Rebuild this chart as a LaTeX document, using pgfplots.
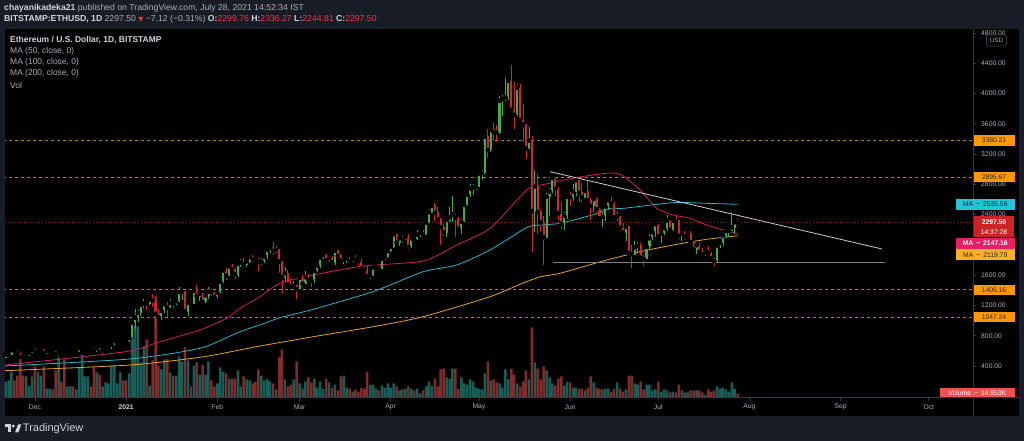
\documentclass[border=0pt]{standalone}
\usepackage{pgfplots}
\pgfplotsset{compat=1.18}
\usepackage{pgfplotstable}
\usepackage{fontspec}
\setmainfont{Liberation Sans}
\newfontfamily\dejavu{DejaVu Sans}
\definecolor{bgnavy}{RGB}{24,28,39}
\definecolor{txtw}{RGB}{209,212,220}
\definecolor{txtg}{RGB}{170,174,184}
\definecolor{hdrred}{RGB}{242,54,69}
\definecolor{cup}{RGB}{72,168,78}
\definecolor{cdn}{RGB}{204,40,46}
\definecolor{vup}{RGB}{24,94,86}
\definecolor{vdn}{RGB}{126,44,44}
\definecolor{ma50}{RGB}{206,32,94}
\definecolor{ma100}{RGB}{38,182,204}
\definecolor{ma200}{RGB}{232,162,32}
\definecolor{lvl}{RGB}{205,122,0}
\definecolor{lvlbox}{RGB}{255,152,0}
\definecolor{curline}{RGB}{150,32,32}
\definecolor{curbox}{RGB}{204,36,36}
\definecolor{tealbox}{RGB}{34,196,214}
\definecolor{pinkbox}{RGB}{233,30,99}
\definecolor{yelbox}{RGB}{249,176,36}
\definecolor{volbox}{RGB}{239,83,80}
\definecolor{sep}{RGB}{54,58,69}
\definecolor{trend}{RGB}{205,205,210}
\definecolor{hline}{RGB}{128,128,132}
\definecolor{boxtxt}{RGB}{40,36,30}
\newcommand\fhdr{\fontsize{8.7}{9.5}\selectfont}
\newcommand\flgd{\fontsize{8.5}{9.5}\selectfont}
\newcommand\ftick{\fontsize{6.8}{8}\selectfont}
\newcommand\flab{\fontsize{6.8}{8}\selectfont}
\newcommand\flogo{\fontsize{11}{12}\selectfont}

\pgfplotstableread{
d o h l c v
-10 510 560 505 550 59
-9 550 562 525 557 63
-8 557 615 550 608 96
-7 608 620 580 604 63
-6 604 616 565 568 81
-5 568 578 480 518 167
-4 518 530 495 517 81
-3 517 545 505 539 78
-2 539 580 530 575 44
-1 575 620 570 614 78
0 614 636 560 587 115
1 587 600 570 598 96
2 598 622 588 616 81
3 616 622 560 570 115
4 570 598 563 596 33
5 596 605 585 601 33
6 601 606 582 592 30
7 592 595 553 555 100
8 555 578 530 573 148
9 573 575 555 560 59
10 560 562 535 545 141
11 545 572 542 568 41
12 568 595 565 590 41
13 590 593 578 586 41
14 586 597 580 589 30
15 589 640 584 636 111
16 636 676 626 643 159
17 643 660 630 654 78
18 654 668 646 658 78
19 658 666 630 638 41
20 638 650 600 609 111
21 609 640 588 634 93
22 634 637 570 585 85
23 585 614 575 612 41
24 612 632 604 626 56
25 626 645 620 636 52
26 636 705 627 683 118
27 683 745 680 731 122
28 731 738 700 732 52
29 732 754 720 751 93
30 751 754 714 737 63
31 737 748 715 730 63
32 730 786 715 774 89
33 774 1010 768 975 218
34 975 1155 895 1040 266
35 1040 1135 985 1100 263
36 1100 1210 1065 1207 130
37 1207 1280 1170 1225 189
38 1225 1265 1140 1224 215
39 1224 1305 1205 1281 44
40 1281 1350 1175 1262 137
41 1262 1265 920 1090 377
42 1090 1150 1040 1043 118
43 1043 1138 1010 1130 104
44 1130 1245 1100 1218 141
45 1218 1250 1050 1171 141
46 1171 1290 1160 1233 93
47 1233 1260 1170 1230 81
48 1230 1260 1200 1257 81
49 1257 1440 1240 1377 152
50 1377 1390 1270 1383 133
51 1383 1385 1090 1120 185
52 1120 1250 1060 1236 137
53 1236 1270 1200 1231 41
54 1231 1410 1225 1391 118
55 1391 1470 1305 1324 130
56 1324 1370 1255 1357 85
57 1357 1360 1220 1248 122
58 1248 1345 1235 1332 85
59 1332 1445 1290 1382 133
60 1382 1390 1320 1377 63
61 1377 1380 1290 1314 41
62 1314 1375 1300 1370 52
63 1370 1540 1365 1512 111
64 1512 1665 1500 1660 96
65 1660 1690 1530 1593 89
66 1593 1735 1590 1719 70
67 1719 1745 1650 1677 70
68 1677 1690 1555 1614 70
69 1614 1765 1575 1750 100
70 1750 1820 1710 1769 41
71 1769 1830 1700 1744 78
72 1744 1795 1710 1783 67
73 1783 1870 1760 1843 63
74 1843 1870 1780 1814 52
75 1814 1830 1770 1800 59
76 1800 1830 1660 1780 104
77 1780 1825 1735 1781 81
78 1781 1855 1755 1848 63
79 1848 1950 1820 1938 67
80 1938 1970 1890 1960 59
81 1960 2040 1870 1919 52
82 1919 1985 1890 1935 30
83 1935 1945 1630 1781 148
84 1781 1785 1370 1570 178
85 1570 1710 1510 1626 67
86 1626 1670 1465 1475 41
87 1475 1560 1400 1446 48
88 1446 1525 1430 1459 67
89 1459 1470 1290 1417 133
90 1417 1570 1410 1567 52
91 1567 1600 1465 1488 33
92 1488 1650 1480 1574 59
93 1574 1620 1510 1537 74
94 1537 1548 1440 1530 56
95 1530 1665 1500 1655 70
96 1655 1735 1640 1724 37
97 1724 1840 1700 1835 59
98 1835 1875 1815 1869 33
99 1869 1880 1780 1795 70
100 1795 1840 1770 1825 56
101 1825 1850 1730 1772 37
102 1772 1945 1740 1925 48
103 1925 1932 1840 1855 26
104 1855 1880 1760 1793 78
105 1793 1820 1745 1806 81
106 1806 1835 1760 1823 37
107 1823 1845 1770 1781 33
108 1781 1830 1770 1811 22
109 1811 1862 1800 1808 30
110 1808 1815 1740 1786 22
111 1786 1810 1670 1687 37
112 1687 1725 1660 1677 33
113 1677 1740 1580 1588 96
114 1588 1630 1550 1594 48
115 1594 1710 1590 1704 48
116 1704 1725 1680 1714 33
117 1714 1720 1665 1682 26
118 1682 1830 1675 1817 44
119 1817 1860 1800 1846 37
120 1846 1945 1830 1919 52
121 1919 1990 1900 1977 37
122 1977 2150 1960 2142 52
123 2142 2145 2020 2028 41
124 2028 2100 1990 2089 26
125 2089 2120 2030 2075 30
126 2075 2150 2070 2111 33
127 2111 2140 1935 1972 41
128 1972 2100 1960 2087 33
129 2087 2100 2055 2071 26
130 2071 2195 2060 2135 33
131 2135 2165 2110 2158 15
132 2158 2200 2120 2140 26
133 2140 2315 2130 2297 41
134 2297 2470 2290 2432 59
135 2432 2545 2415 2515 44
136 2515 2550 2320 2423 70
137 2423 2495 2310 2337 41
138 2337 2355 2000 2236 104
139 2236 2280 2120 2166 107
140 2166 2340 2110 2327 74
141 2327 2500 2300 2364 70
142 2364 2640 2300 2402 107
143 2402 2410 2110 2363 107
144 2363 2370 2185 2213 33
145 2213 2340 2150 2303 74
146 2303 2550 2300 2530 52
147 2530 2680 2515 2663 48
148 2663 2800 2630 2748 67
149 2748 2800 2660 2757 59
150 2757 2800 2720 2772 37
151 2772 2970 2765 2945 33
152 2945 2985 2860 2950 30
153 2950 3460 2940 3430 89
154 3430 3530 3150 3253 133
155 3253 3540 3225 3521 63
156 3521 3610 3370 3489 67
157 3489 3590 3360 3480 56
158 3480 3970 3460 3903 52
159 3903 3980 3700 3928 37
160 3928 4200 3900 3950 104
161 3950 4200 3920 4170 67
162 4170 4380 3780 3785 107
163 3785 4150 3530 3718 85
164 3718 4130 3700 4080 52
165 4080 4120 3630 3646 41
166 3646 3860 3360 3589 59
167 3589 3600 3140 3274 100
168 3274 3560 3270 3380 67
169 3380 3440 1900 2447 259
170 2447 2990 2170 2774 130
171 2774 2940 2150 2434 107
172 2434 2480 2170 2298 67
173 2298 2380 1730 2101 115
174 2101 2680 2090 2640 100
175 2640 2750 2385 2705 74
176 2705 2910 2690 2888 52
177 2888 2895 2650 2742 44
178 2742 2765 2330 2420 70
179 2420 2565 2210 2280 78
180 2280 2440 2200 2388 44
181 2388 2650 2340 2633 59
182 2633 2700 2520 2632 56
183 2632 2800 2580 2707 37
184 2707 2890 2650 2855 37
185 2855 2860 2570 2688 33
186 2688 2815 2560 2630 33
187 2630 2740 2615 2712 26
188 2712 2840 2575 2590 37
189 2590 2620 2330 2516 78
190 2516 2630 2440 2608 56
191 2608 2620 2440 2472 37
192 2472 2490 2330 2352 33
193 2352 2440 2240 2372 30
194 2372 2525 2310 2508 33
195 2508 2610 2460 2589 33
196 2589 2630 2520 2548 22
197 2548 2560 2350 2366 33
198 2366 2430 2310 2373 56
199 2373 2380 2190 2226 33
200 2226 2290 2150 2163 22
201 2163 2270 2050 2240 30
202 2240 2250 1880 1891 81
203 1891 2000 1700 1878 81
204 1878 2050 1860 1968 52
205 1968 2040 1900 1989 48
206 1989 2020 1810 1830 59
207 1830 1860 1720 1817 30
208 1817 1990 1810 1975 48
209 1975 2140 1950 2087 48
210 2087 2200 2070 2168 26
211 2168 2280 2100 2273 30
212 2273 2280 2090 2110 59
213 2110 2160 2020 2150 22
214 2150 2240 2130 2221 30
215 2221 2390 2190 2322 26
216 2322 2330 2170 2198 19
217 2198 2350 2190 2322 22
218 2322 2400 2300 2317 19
219 2317 2320 2080 2117 48
220 2117 2190 2050 2147 26
221 2147 2180 2060 2112 19
222 2112 2160 2100 2139 19
223 2139 2180 2010 2037 26
224 2037 2050 1920 1940 26
225 1940 2010 1880 1995 26
226 1995 2030 1900 1912 26
227 1912 1960 1850 1874 19
228 1874 1920 1855 1897 11
229 1897 1990 1880 1895 30
230 1895 1900 1790 1818 22
231 1818 1830 1720 1787 26
232 1787 2020 1770 1994 41
233 1994 2050 1960 2027 33
234 2027 2130 1990 2123 37
235 2123 2200 2090 2187 30
236 2187 2190 2110 2189 22
237 2189 2430 2180 2230 56
238 2230 2315 2150 2300 33
239 2299.76 2336.27 2244.81 2297.50 15
}\eth

\pgfplotstableread{
d m
-10.4 412
10.8 500
32.3 598
42.5 721
56.1 876
65.2 1030
69.7 1162
76.5 1316
83.3 1493
94.6 1602
111.6 1721
132.1 1787
143.4 1998
154.8 2220
167.2 2725
172.0 2791
175.2 2814
183.4 2885
195.6 2950
200.1 2910
205.8 2725
211.5 2483
217.1 2395
222.8 2351
228.5 2263
234.1 2197
239.0 2147
}\maA

\pgfplotstableread{
d m
-10.4 400
32.3 493
56.1 634
69.7 853
76.5 942
83.3 1038
94.6 1149
114.9 1382
132.1 1646
143.4 1734
154.8 1933
167.2 2228
172.0 2263
178.6 2285
189.5 2395
195.6 2483
200.1 2483
217.1 2558
228.5 2549
239.0 2536
}\maB

\pgfplotstableread{
d m
-10.4 338
32.3 413
56.1 515
69.7 612
76.5 664
94.6 787
115.0 919
132.1 1052
154.8 1316
164.9 1479
172.0 1580
178.6 1625
193.5 1790
205.8 1910
217.1 1999
228.5 2074
239.0 2120
}\maC

\begin{document}
\begin{tikzpicture}
\begin{scope}[x=1bp,y=-1bp]
\path[use as bounding box] (0,0) rectangle (1024,441);
\fill[bgnavy] (0,0) rectangle (1024,441);
\fill[black] (4.5,29.3) rectangle (1019.3,416);
\end{scope}

% volume
\begin{axis}[at={(4.5bp,-397.5bp)}, anchor=south west, scale only axis,
  width=968.5bp, height=368.2bp,
  xmin=-10.37, xmax=319.05, ymin=0, ymax=1362, hide axis, clip=true]
\addplot[ybar, bar width=2.5bp, bar shift=0pt, fill=vup, draw=none,
  restrict expr to domain={\thisrow{c}-\thisrow{o}}{0:100000}]
  table[x=d, y=v]{\eth};
\addplot[ybar, bar width=2.5bp, bar shift=0pt, fill=vdn, draw=none,
  restrict expr to domain={\thisrow{o}-\thisrow{c}}{0.0001:100000}]
  table[x=d, y=v]{\eth};
\end{axis}

% price
\begin{axis}[at={(4.5bp,-397.5bp)}, anchor=south west, scale only axis,
  width=968.5bp, height=368.2bp,
  xmin=-10.37, xmax=319.05, ymin=-16, ymax=4848,
  axis line style={draw=none},
  tick align=outside, major tick length=3bp,
  tick style={draw=sep, line width=0.6bp},
  ytick pos=right, yticklabel pos=right, xtick pos=bottom,
  ytick={400,800,1200,1600,2400,2800,3200,3600,4000,4400,4800},
  yticklabels={400.00,800.00,1200.00,1600.00,2400.00,2800.00,3200.00,3600.00,4000.00,4400.00,4800.00},
  xtick={0,31,62,90,121,151,182,212,243,274,304},
  xticklabels={Dec,{\textcolor{txtw}{\bfseries 2021}},Feb,Mar,Apr,May,Jun,Jul,Aug,Sep,Oct},
  tick label style={font=\ftick, text=txtg},
  yticklabel style={anchor=west, inner sep=0pt, xshift=5bp},
  xticklabel style={anchor=center, inner sep=0pt, yshift=-6.5bp},
  /pgf/number format/assume math mode=true,
  clip=true]
% levels
\addplot[lvl, line width=0.8bp, dash pattern=on 3bp off 3bp] coordinates {(-11,3380.21) (320,3380.21)};
\addplot[lvl, line width=0.8bp, dash pattern=on 3bp off 3bp] coordinates {(-11,2895.67) (320,2895.67)};
\addplot[lvl, line width=0.8bp, dash pattern=on 3bp off 3bp] coordinates {(-11,1406.16) (320,1406.16)};
\addplot[lvl, line width=0.8bp, dash pattern=on 3bp off 3bp] coordinates {(-11,1047.24) (320,1047.24)};
\addplot[curline, line width=0.7bp, dash pattern=on 1bp off 2bp] coordinates {(-11,2297.5) (320,2297.5)};
% moving averages
\addplot[ma200, line width=0.8bp, smooth, tension=0.4] table[x=d, y=m]{\maC};
\addplot[ma100, line width=0.8bp, smooth, tension=0.4] table[x=d, y=m]{\maB};
\addplot[ma50, line width=0.8bp, smooth, tension=0.4] table[x=d, y=m]{\maA};
% drawings
\addplot[hline, line width=1.6bp] coordinates {(176.3,1765) (289,1765)};
\addplot[trend, line width=0.8bp] coordinates {(175.2,2967) (288.1,1946)};
% wicks
\addplot[only marks, mark=none,
  restrict expr to domain={\thisrow{c}-\thisrow{o}}{0:100000},
  error bars/.cd, y dir=both, y explicit, error mark=none,
  error bar style={line width=0.7bp, draw=cup}]
  table[x=d, y=c, y error plus expr=\thisrow{h}-\thisrow{c}, y error minus expr=\thisrow{c}-\thisrow{l}]{\eth};
\addplot[only marks, mark=none,
  restrict expr to domain={\thisrow{o}-\thisrow{c}}{0.0001:100000},
  error bars/.cd, y dir=both, y explicit, error mark=none,
  error bar style={line width=0.7bp, draw=cdn}]
  table[x=d, y=c, y error plus expr=\thisrow{h}-\thisrow{c}, y error minus expr=\thisrow{c}-\thisrow{l}]{\eth};
% bodies
\addplot[only marks, mark=none,
  restrict expr to domain={\thisrow{c}-\thisrow{o}}{0:100000},
  error bars/.cd, y dir=minus, y explicit, error mark=none,
  error bar style={line width=2.1bp, draw=cup}]
  table[x=d, y=c, y error minus expr=\thisrow{c}-\thisrow{o}+6]{\eth};
\addplot[only marks, mark=none,
  restrict expr to domain={\thisrow{o}-\thisrow{c}}{0.0001:100000},
  error bars/.cd, y dir=plus, y explicit, error mark=none,
  error bar style={line width=2.1bp, draw=cdn}]
  table[x=d, y=c, y error plus expr=\thisrow{o}-\thisrow{c}+6]{\eth};
\end{axis}

\begin{scope}[x=1bp,y=-1bp]
% separators
\draw[sep, line width=0.6bp] (973,29.3) -- (973,416);
\draw[sep, line width=0.6bp] (4.5,397.5) -- (1019.3,397.5);
% USD
\draw[rounded corners=1.5bp, draw=sep, fill=black, line width=0.6bp] (986.5,35) rectangle (1006.5,46);
\node[font=\fontsize{6.3}{7}\selectfont, text=txtg, inner sep=0pt] at (996.5,40.5) {USD};
% price boxes
\tikzset{pbox/.style={anchor=west, inner sep=0pt, font=\flab, minimum height=10.8bp}}
\node[pbox, fill=lvlbox, text=boxtxt, minimum width=41bp] at (973.3,140.4) {3380.21};
\node[pbox, fill=lvlbox, text=boxtxt, minimum width=41bp] at (973.3,177.1) {2895.67};
\node[pbox, fill=tealbox, text=boxtxt, minimum width=58.6bp] at (955.7,204.5) {MA\, −\, 2535.56};
\fill[curbox] (973.7,216.2) rectangle (1014.3,237.3);
\node[font=\flab, text=white, inner sep=0pt] at (994,222) {\bfseries 2297.50};
\node[font=\flab, text=white, inner sep=0pt] at (994,232) {14:37:28};
\node[pbox, fill=pinkbox, text=white, minimum width=58.6bp] at (955.7,243.5) {\bfseries MA\, −\, 2147.16};
\node[pbox, fill=yelbox, text=boxtxt, minimum width=58.6bp] at (955.7,254.8) {MA\, −\, 2119.79};
\node[pbox, fill=lvlbox, text=boxtxt, minimum width=41bp] at (973.3,290.0) {1406.16};
\node[pbox, fill=lvlbox, text=boxtxt, minimum width=41bp] at (973.3,317.0) {1047.24};
\node[pbox, fill=volbox, text=white, minimum width=74.3bp, minimum height=9bp] at (940,392.8) {Volume\, −\, 14.953K};
% header
\node[anchor=west, inner sep=0pt, font=\fhdr] at (4,8) {\textcolor{txtw}{\bfseries chayanikadeka21} \textcolor{txtg}{published on TradingView.com, July 28, 2021 14:52:34 IST}};
\node[anchor=west, inner sep=0pt, font=\fhdr] at (4,19.5) {\textcolor{txtw}{\bfseries BITSTAMP:ETHUSD, 1D} \textcolor{txtg}{2297.50} \textcolor{hdrred}{\dejavu\fontsize{6.5}{7}\selectfont ▼} \textcolor{txtg}{−7.12 (−0.31\%)} \textcolor{txtw}{\bfseries O:}\textcolor{hdrred}{2299.76} \textcolor{txtw}{\bfseries H:}\textcolor{hdrred}{2336.27} \textcolor{txtw}{\bfseries L:}\textcolor{hdrred}{2244.81} \textcolor{txtw}{\bfseries C:}\textcolor{hdrred}{2297.50}};
% legend
\node[anchor=west, inner sep=0pt, font=\flgd, text=txtw] at (10,40.5) {\bfseries Ethereum / U.S. Dollar, 1D, BITSTAMP};
\node[anchor=west, inner sep=0pt, font=\flgd, text=txtg] at (10,51.8) {MA (50, close, 0)};
\node[anchor=west, inner sep=0pt, font=\flgd, text=txtg] at (10,62.8) {MA (100, close, 0)};
\node[anchor=west, inner sep=0pt, font=\flgd, text=txtg] at (10,73.8) {MA (200, close, 0)};
\node[anchor=west, inner sep=0pt, font=\flgd, text=txtg] at (10,85.3) {Vol};
% footer logo
\fill[txtw] (4.5,424.5) rectangle (11,427.5);
\fill[txtw] (7.8,424.5) rectangle (11,432.5);
\fill[txtw] (13.3,426) circle (1.6);
\fill[txtw] (15,432.5) -- (18,424.5) -- (21.3,424.5) -- (18.3,432.5) -- cycle;
\node[anchor=west, inner sep=0pt, font=\flogo, text=txtw] at (22.8,428.8) {TradingView};
\end{scope}
\end{tikzpicture}
\end{document}
